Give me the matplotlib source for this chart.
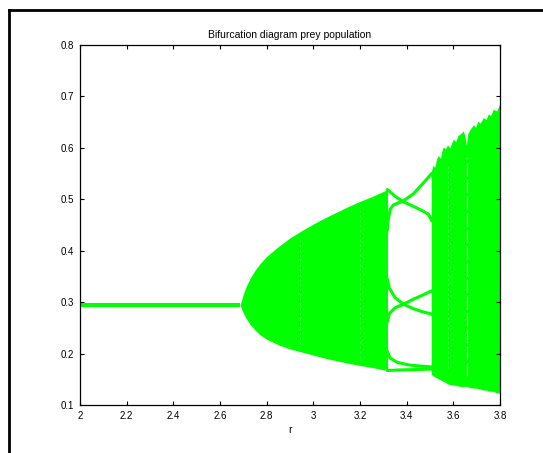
import matplotlib
matplotlib.use("Agg")
import matplotlib.pyplot as plt
import numpy as np
from matplotlib.lines import Line2D

plt.rcParams['font.family'] = ['Liberation Sans', 'DejaVu Sans']

green = '#00ff00'

# fixed point branch
flat_r = [2.0, 2.686]
flat_v = [0.295, 0.295]

# first chaotic bulb (envelope)
bulb_r = [2.686, 2.69, 2.695, 2.70, 2.71, 2.72, 2.73, 2.75, 2.77, 2.80, 2.85, 2.90, 2.95,
          3.00, 3.05, 3.10, 3.15, 3.20, 3.25, 3.318]
bulb_hi = [0.295, 0.300, 0.308, 0.316, 0.328, 0.338, 0.347, 0.362, 0.374, 0.389, 0.408, 0.425, 0.439,
           0.452, 0.464, 0.475, 0.486, 0.496, 0.505, 0.519]
bulb_lo = [0.295, 0.290, 0.284, 0.279, 0.270, 0.263, 0.256, 0.246, 0.237, 0.228, 0.217, 0.209, 0.203,
           0.197, 0.191, 0.186, 0.181, 0.177, 0.173, 0.167]
bulb_gaps = [2.943, 3.20]

# periodic window branches
br_a_r = [3.317, 3.33, 3.35, 3.386, 3.43, 3.47, 3.493, 3.508]
br_a_v = [0.519, 0.514, 0.506, 0.495, 0.486, 0.477, 0.471, 0.458]
br_b_r = [3.317, 3.321, 3.329, 3.343, 3.386, 3.43, 3.47, 3.507]
br_b_v = [0.440, 0.460, 0.480, 0.489, 0.497, 0.511, 0.531, 0.550]
br_c_r = [3.317, 3.326, 3.35, 3.386, 3.43, 3.47, 3.507]
br_c_v = [0.345, 0.327, 0.309, 0.296, 0.287, 0.281, 0.277]
br_d_r = [3.317, 3.326, 3.35, 3.386, 3.43, 3.47, 3.507]
br_d_v = [0.262, 0.278, 0.289, 0.296, 0.306, 0.314, 0.322]
br_e_r = [3.317, 3.329, 3.36, 3.407, 3.45, 3.507]
br_e_v = [0.205, 0.191, 0.183, 0.178, 0.176, 0.174]
br_f_r = [3.317, 3.36, 3.45, 3.507]
br_f_v = [0.167, 0.168, 0.169, 0.170]

# second chaotic region (ragged top read column by column)
chaos_r = [3.505, 3.512, 3.52, 3.528, 3.535, 3.545, 3.552, 3.557, 3.566, 3.575, 3.585, 3.595,
           3.60, 3.61, 3.62, 3.632, 3.643, 3.650, 3.656, 3.662, 3.672, 3.686, 3.695, 3.705,
           3.715, 3.729, 3.74, 3.75, 3.76, 3.771, 3.785, 3.80]
chaos_hi = [0.552, 0.566, 0.562, 0.578, 0.585, 0.580, 0.596, 0.602, 0.598, 0.606, 0.600, 0.612,
            0.617, 0.612, 0.624, 0.628, 0.633, 0.622, 0.605, 0.628, 0.636, 0.645, 0.640, 0.652,
            0.648, 0.659, 0.655, 0.666, 0.663, 0.675, 0.672, 0.686]
chaos_lo = [0.160, 0.157, 0.155, 0.153, 0.151, 0.149, 0.147, 0.146, 0.144, 0.141, 0.140, 0.139,
            0.139, 0.138, 0.137, 0.136, 0.136, 0.136, 0.137, 0.135, 0.134, 0.133, 0.133, 0.132,
            0.131, 0.129, 0.129, 0.127, 0.127, 0.126, 0.124, 0.123]
chaos_gaps = [3.575, 3.658]

xticks = [2, 2.2, 2.4, 2.6, 2.8, 3, 3.2, 3.4, 3.6, 3.8]
xlabels = ['2', '2.2', '2.4', '2.6', '2.8', '3', '3.2', '3.4', '3.6', '3.8']
yticks = [0.1, 0.2, 0.3, 0.4, 0.5, 0.6, 0.7, 0.8]

fig = plt.figure(figsize=(5.43, 4.53), dpi=100)
ax = fig.add_axes([80 / 543, 48 / 453, 420 / 543, 360 / 453])

ax.plot(flat_r, flat_v, color=green, lw=2.9, solid_capstyle='butt')
ax.fill_between(bulb_r, bulb_lo, bulb_hi, color=green, lw=0)
for g in bulb_gaps:
    lo = np.interp(g, bulb_r, bulb_lo)
    hi = np.interp(g, bulb_r, bulb_hi)
    ax.plot([g, g], [lo + 0.015, hi - 0.015], color='white', lw=0.5, ls=(0, (3, 4)), alpha=0.45)

for rr, vv in [(br_a_r, br_a_v), (br_b_r, br_b_v), (br_c_r, br_c_v),
               (br_d_r, br_d_v), (br_e_r, br_e_v), (br_f_r, br_f_v)]:
    ax.plot(rr, vv, color=green, lw=2.2, solid_capstyle='round')

ax.fill_between(chaos_r, chaos_lo, chaos_hi, color=green, lw=0)
for g in chaos_gaps:
    lo = np.interp(g, chaos_r, chaos_lo)
    hi = np.interp(g, chaos_r, chaos_hi)
    if g > 3.6:
        ax.plot([g, g], [lo + 0.02, hi - 0.03], color='white', lw=0.8, ls=(0, (12, 3)), alpha=0.85)
    else:
        ax.plot([g, g], [lo + 0.03, hi - 0.04], color='white', lw=0.5, ls=(0, (3, 4)), alpha=0.5)

ax.set_xlim(2, 3.8)
ax.set_ylim(0.1, 0.8)
ax.set_xticks(xticks)
ax.set_xticklabels(xlabels)
ax.set_yticks(yticks)
ax.tick_params(direction='in', length=3, width=0.8, labelsize=7, top=True, right=True, pad=4)
for s in ax.spines.values():
    s.set_linewidth(0.9)

ax.set_title('Bifurcation diagram prey population', fontsize=7.5, pad=5)
ax.set_xlabel('r', fontsize=7.5, labelpad=3)

# border of the exported figure window
fig.add_artist(Line2D([9 / 543, 9 / 543], [0, 1 - 10 / 453], transform=fig.transFigure, color='black', lw=2))
fig.add_artist(Line2D([9 / 543, 1], [1 - 10 / 453, 1 - 10 / 453], transform=fig.transFigure, color='black', lw=2))

fig.savefig('out.png', dpi=100)
